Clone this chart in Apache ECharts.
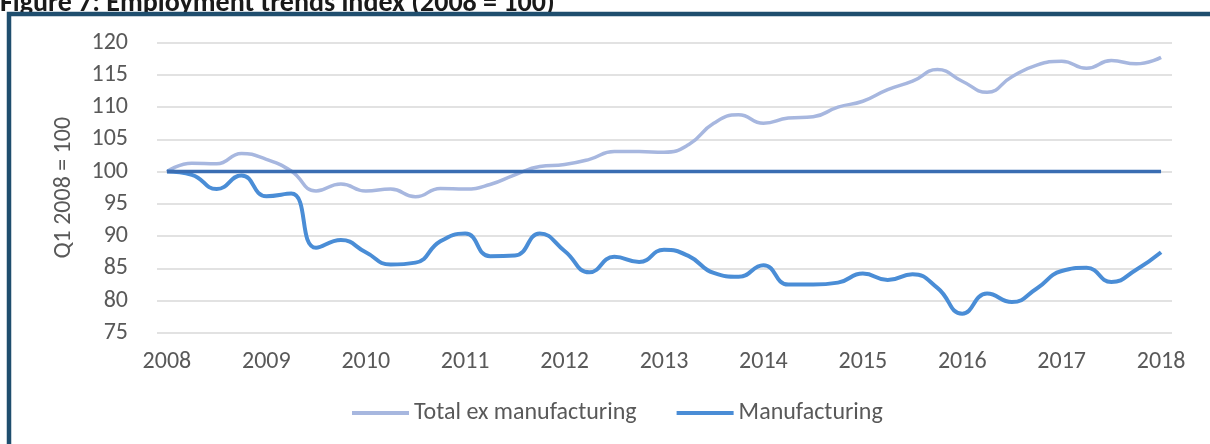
<!DOCTYPE html>
<html>
<head>
<meta charset="utf-8">
<script src="https://cdn.jsdelivr.net/npm/echarts@6/dist/echarts.min.js"></script>
<style>
  html, body { margin: 0; padding: 0; background: #ffffff; }
  #chart { width: 1210px; height: 444px; }
</style>
</head>
<body>
<div id="chart"></div>
<script>
// Quarterly employment index, Q1 2008 = 100
const quarterLabels = [
  '2008 Q1', '2008 Q2', '2008 Q3', '2008 Q4',
  '2009 Q1', '2009 Q2', '2009 Q3', '2009 Q4',
  '2010 Q1', '2010 Q2', '2010 Q3', '2010 Q4',
  '2011 Q1', '2011 Q2', '2011 Q3', '2011 Q4',
  '2012 Q1', '2012 Q2', '2012 Q3', '2012 Q4',
  '2013 Q1', '2013 Q2', '2013 Q3', '2013 Q4',
  '2014 Q1', '2014 Q2', '2014 Q3', '2014 Q4',
  '2015 Q1', '2015 Q2', '2015 Q3', '2015 Q4',
  '2016 Q1', '2016 Q2', '2016 Q3', '2016 Q4',
  '2017 Q1', '2017 Q2', '2017 Q3', '2017 Q4',
  '2018 Q1'
];

const totalExManufacturing = [
  100.0, 101.3, 101.2, 102.8,
  101.9, 100.1, 97.0, 98.1,
  97.0, 97.3, 96.1, 97.4,
  97.3, 98.0, 99.5, 100.8,
  101.1, 101.9, 103.1, 103.1,
  103.0, 104.2, 107.5, 108.8,
  107.5, 108.3, 108.5, 110.0,
  110.9, 112.7, 114.0, 115.8,
  114.0, 112.3, 114.7, 116.5,
  117.1, 116.0, 117.2, 116.7,
  117.7
];

const manufacturing = [
  100.0, 99.5, 97.3, 99.4,
  96.2, 96.6, 88.2, 89.4,
  87.5, 85.6, 85.9, 89.2,
  90.4, 86.9, 87.0, 90.4,
  87.7, 84.4, 86.8, 86.0,
  87.9, 86.9, 84.3, 83.7,
  85.5, 82.5, 82.5, 82.8,
  84.2, 83.2, 84.1, 82.0,
  78.0, 81.1, 79.8, 81.9,
  84.6, 85.1, 82.9, 84.8,
  87.5
];

const baseValue = 100;
const yearTicks = [2008, 2009, 2010, 2011, 2012, 2013, 2014, 2015, 2016, 2017, 2018];
const seriesNames = ['Total ex manufacturing', 'Manufacturing'];
const titleText = 'Figure 7: Employment trends index (2008 = 100)';
const yAxisTitle = 'Q1 2008 = 100';

// "2008 Q3" -> 2008.5 (position of the quarter on a continuous year axis)
function quarterToYear(label) {
  const parts = label.split(' Q');
  return Number(parts[0]) + (Number(parts[1]) - 1) / 4;
}
const xs = quarterLabels.map(quarterToYear);
const toPoints = values => values.map((v, i) => [xs[i], v]);

const FONT = 'Carlito, Lato, sans-serif';
const LABEL_COLOR = '#595959';
const FONT_SIZE = 24;

const chart = echarts.init(document.getElementById('chart'), null, { renderer: 'canvas' });

chart.setOption({
  animation: false,
  backgroundColor: '#ffffff',
  grid: { left: 157, right: 38, top: 42.5, bottom: 111 },
  xAxis: {
    type: 'value',
    min: 2007.9,
    max: 2018.11,
    axisLine: { show: false },
    axisTick: { show: false },
    splitLine: { show: false },
    axisLabel: {
      customValues: yearTicks,
      formatter: v => String(Math.round(v)),
      color: LABEL_COLOR,
      fontFamily: FONT,
      fontSize: FONT_SIZE,
      margin: 17
    }
  },
  yAxis: {
    type: 'value',
    min: 75,
    max: 120,
    interval: 5,
    name: yAxisTitle,
    nameLocation: 'middle',
    nameGap: 81,
    nameTextStyle: { color: LABEL_COLOR, fontFamily: FONT, fontSize: FONT_SIZE },
    axisLine: { show: false },
    axisTick: { show: false },
    axisLabel: { color: LABEL_COLOR, fontFamily: FONT, fontSize: FONT_SIZE, margin: 29 },
    splitLine: { lineStyle: { color: '#d9d9d9', width: 1.5 } }
  },
  legend: {
    data: seriesNames,
    left: 347,
    top: 396,
    icon: 'rect',
    itemWidth: 57,
    itemHeight: 4,
    itemGap: 40,
    textStyle: { color: LABEL_COLOR, fontFamily: FONT, fontSize: FONT_SIZE }
  },
  series: [
    {
      name: seriesNames[0],
      type: 'line',
      data: toPoints(totalExManufacturing),
      smooth: 0.5,
      symbol: 'none',
      lineStyle: { color: '#a7b7df', width: 3.5 },
      itemStyle: { color: '#a7b7df' },
      z: 2
    },
    {
      name: seriesNames[1],
      type: 'line',
      data: toPoints(manufacturing),
      smooth: 0.5,
      symbol: 'none',
      lineStyle: { color: '#4a8dd6', width: 4 },
      itemStyle: { color: '#4a8dd6' },
      z: 3
    },
    {
      name: 'Base',
      type: 'line',
      data: [[xs[0], baseValue], [xs[xs.length - 1], baseValue]],
      symbol: 'none',
      lineStyle: { color: '#3a6db2', width: 3.5 },
      itemStyle: { color: '#3a6db2' },
      z: 4
    }
  ],
  graphic: [
    {
      type: 'text',
      left: 0,
      top: -10,
      z: 10,
      style: {
        text: titleText,
        font: 'bold 28px ' + FONT,
        fill: '#1a1a1a'
      }
    },
    {
      type: 'rect',
      z: 20,
      shape: { x: 9, y: 14, width: 1400, height: 600 },
      style: { fill: 'none', stroke: '#1f4e6e', lineWidth: 4.5 }
    }
  ]
});
</script>
</body>
</html>
